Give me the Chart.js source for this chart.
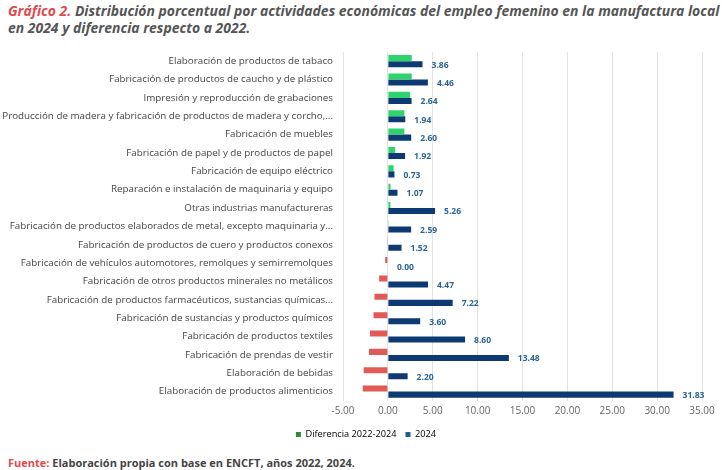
<!DOCTYPE html>
<html>
<head>
<meta charset="utf-8">
<script src="https://cdn.jsdelivr.net/npm/chart.js@4"></script>
<style>
  body { margin: 0; width: 728px; height: 470px; background: #fff; font-family: "Open Sans", sans-serif; position: relative; overflow: hidden; }
  #title { position: absolute; left: 8px; top: 3px; font-size: 13.95px; font-weight: 700; font-style: italic; color: #555; line-height: 16.5px; }
  #title .red { color: #e04a4f; }
  #wrap { position: absolute; left: 0; top: 43px; width: 728px; height: 406px; }
  #foot { position: absolute; left: 8px; top: 455px; font-size: 11px; font-weight: 700; color: #444; }
  #foot .red { color: #e04a4f; }
</style>
</head>
<body>
<div id="title"><span class="red">Gráfico 2.</span> Distribución porcentual por actividades económicas del empleo femenino en la manufactura local<br>en 2024 y diferencia respecto a 2022.</div>
<div id="wrap"><canvas id="chart"></canvas></div>
<div id="foot"><span class="red">Fuente:</span> Elaboración propia con base en ENCFT, años 2022, 2024.</div>
<script>
// Categorías (de arriba hacia abajo)
const categories = [
  "Elaboración de productos de tabaco",
  "Fabricación de productos de caucho y de plástico",
  "Impresión y reproducción de grabaciones",
  "Producción de madera y fabricación de productos de madera y corcho,...",
  "Fabricación de muebles",
  "Fabricación de papel y de productos de papel",
  "Fabricación de equipo eléctrico",
  "Reparación e instalación de maquinaria y equipo",
  "Otras industrias manufactureras",
  "Fabricación de productos elaborados de metal, excepto maquinaria y...",
  "Fabricación de productos de cuero y productos conexos",
  "Fabricación de vehículos automotores, remolques y semirremolques",
  "Fabricación de otros productos minerales no metálicos",
  "Fabricación de productos farmacéuticos, sustancias químicas...",
  "Fabricación de sustancias y productos químicos",
  "Fabricación de productos textiles",
  "Fabricación de prendas de vestir",
  "Elaboración de bebidas",
  "Elaboración de productos alimenticios"
];

// % 2024
const values2024 = [3.86, 4.46, 2.64, 1.94, 2.60, 1.92, 0.73, 1.07, 5.26, 2.59, 1.52, 0.00, 4.47, 7.22, 3.60, 8.60, 13.48, 2.20, 31.83];

// Diferencia 2022-2024 (estimada del gráfico)
const diffValues = [2.66, 2.66, 2.47, 1.84, 1.84, 0.80, 0.64, 0.30, 0.28, 0.02, -0.08, -0.30, -0.97, -1.50, -1.60, -2.00, -2.10, -2.70, -2.80];

const xTicks = [-5, 0, 5, 10, 15, 20, 25, 30, 35];

const GREEN = "#2fd36e";
const RED = "#e25a57";
const NAVY = "#0e3a73";
const LABEL = "#2a6590";

// etiquetas de valor para 2024
const valueLabels = {
  id: "valueLabels",
  afterDatasetsDraw(chart) {
    const ctx = chart.ctx;
    const meta = chart.getDatasetMeta(1);
    ctx.save();
    ctx.font = "bold 8.5px 'Open Sans', sans-serif";
    ctx.fillStyle = LABEL;
    ctx.textAlign = "left";
    ctx.textBaseline = "middle";
    meta.data.forEach((bar, i) => {
      ctx.fillText(values2024[i].toFixed(2), bar.x + 9, bar.y + 1);
    });
    ctx.restore();
  }
};

// la leyenda del original está algo más a la derecha
const legendShift = {
  id: "legendShift",
  afterLayout(chart) {
    chart.legend.left += 15;
    chart.legend.right += 15;
  }
};

new Chart(document.getElementById("chart"), {
  type: "bar",
  data: {
    labels: categories,
    datasets: [
      {
        label: "Diferencia 2022-2024",
        data: diffValues,
        backgroundColor: diffValues.map(v => v >= 0 ? GREEN : RED),
        barPercentage: 1,
        categoryPercentage: 0.66
      },
      {
        label: "2024",
        data: values2024,
        backgroundColor: NAVY,
        barPercentage: 1,
        categoryPercentage: 0.66
      }
    ]
  },
  options: {
    indexAxis: "y",
    responsive: true,
    maintainAspectRatio: false,
    animation: false,
    layout: { padding: { left: 0, right: 26, top: 9, bottom: 0 } },
    scales: {
      x: {
        min: -5,
        max: 35,
        afterBuildTicks(scale) { scale.ticks = xTicks.map(v => ({ value: v })); },
        ticks: {
          color: "#666",
          font: { size: 10, family: "'Open Sans', sans-serif" },
          callback: v => v.toFixed(2),
          padding: 4
        },
        grid: { color: "#e3e3e3", drawTicks: false },
        border: { display: false }
      },
      y: {
        afterFit(scale) { scale.width = 343; },
        ticks: {
          color: "#444",
          font: { size: 9.8, family: "'Open Sans', sans-serif" },
          padding: 2,
          autoSkip: false
        },
        grid: { display: false },
        border: { display: false }
      }
    },
    plugins: {
      legend: {
        position: "bottom",
        labels: {
          boxWidth: 5,
          boxHeight: 5,
          padding: 9,
          color: "#555",
          font: { size: 9.2, family: "'Open Sans', sans-serif" },
          generateLabels: () => [
            { text: "Diferencia 2022-2024", fillStyle: "#2e8b3a", strokeStyle: "#2e8b3a", lineWidth: 0, datasetIndex: 0 },
            { text: "2024", fillStyle: "#1f5f8b", strokeStyle: "#1f5f8b", lineWidth: 0, datasetIndex: 1 }
          ]
        }
      },
      tooltip: { enabled: false }
    }
  },
  plugins: [valueLabels, legendShift]
});
</script>
</body>
</html>
